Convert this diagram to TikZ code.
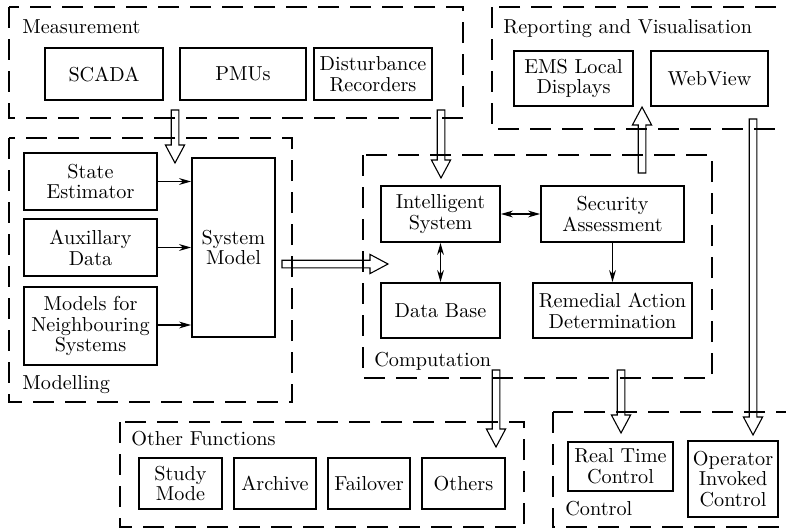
\documentclass[tikz,border=0pt]{standalone}
\usepackage{fontspec}
\usetikzlibrary{arrows.meta,calc}

% hollow block arrows (vertical and horizontal), tail at #1, tip at #2
\newcommand\fatvarrow[2]{%
  \draw[fatarrow] let \p1=(#1), \p2=(#2), \n1={sign(\y2-\y1)} in
    (\x1-1.9pt,\y1) -- (\x1-1.9pt,{\y2-\n1*9pt}) -- (\x1-4.8pt,{\y2-\n1*9pt}) -- (\x1,\y2)
    -- (\x1+4.8pt,{\y2-\n1*9pt}) -- (\x1+1.9pt,{\y2-\n1*9pt}) -- (\x1+1.9pt,\y1) -- cycle;}
\newcommand\fatharrow[2]{%
  \draw[fatarrow] let \p1=(#1), \p2=(#2), \n1={sign(\x2-\x1)} in
    (\x1,\y1-1.9pt) -- ({\x2-\n1*9pt},\y1-1.9pt) -- ({\x2-\n1*9pt},\y1-4.8pt) -- (\x2,\y1)
    -- ({\x2-\n1*9pt},\y1+4.8pt) -- ({\x2-\n1*9pt},\y1+1.9pt) -- (\x1,\y1+1.9pt) -- cycle;}

\begin{document}
\begin{tikzpicture}[x=0.5pt,y=-0.5pt,
  font=\fontsize{10.1}{10.4}\selectfont,
  box/.style={draw,line width=0.95pt,inner sep=0pt,align=center},
  sz/.style 2 args={minimum width=#1*0.5pt,minimum height=#2*0.5pt},
  group/.style={draw,line width=0.6pt,dash pattern=on 10.5pt off 5.5pt},
  lbl/.style={anchor=base west,inner sep=0pt},
  link/.style={line width=0.55pt,-{Stealth[length=6pt,width=3.4pt]}},
  dlink/.style={line width=0.55pt,{Stealth[length=6pt,width=3.4pt]}-{Stealth[length=6pt,width=3.4pt]}},
  fatarrow/.style={line width=0.55pt,line join=miter}]

\clip (0,0) rectangle (786,530);

% functional groups
\draw[group] (9,7) rectangle (463,118);
\draw[group] (492,7) rectangle (800,129);
\draw[group] (9,138) rectangle (292,402);
\draw[group] (363,155) rectangle (712,378);
\draw[group] (120,422) rectangle (524,527);
\draw[group] (553,412) rectangle (800,527);

\node[lbl] (lmeas) at (22,33) {Measurement};
\node[lbl] (lrep) at (503,33) {Reporting and Visualisation};
\node[lbl] (lmod) at (22,389) {Modelling};
\node[lbl] (lcomp) at (374,366) {Computation};
\node[lbl] (loth) at (131,445) {Other Functions};
\node[lbl] (lctl) at (565,515) {Control};

% measurement
\node[box,sz={118}{52}] (scada) at (104,74) {SCADA};
\node[box,sz={126}{52}] (pmu) at (243,74) {PMUs};
\node[box,sz={118}{52}] (dr) at (373,74) {Disturbance\\Recorders};

% reporting
\node[box,sz={119}{55}] (ems) at (573.5,78.5) {EMS Local\\Displays};
\node[box,sz={117}{55}] (web) at (709.5,78.5) {WebView};

% modelling
\node[box,sz={133}{57}] (se) at (90.5,181.5) {State\\Estimator};
\node[box,sz={133}{57}] (aux) at (90.5,247.5) {Auxillary\\Data};
\node[box,sz={133}{78}] (nb) at (90.5,326) {Models for\\Neighbouring\\Systems};
\node[box,sz={83}{179}] (sm) at (233.5,247.5) {System\\Model};

% computation
\node[box,sz={119}{56}] (is) at (440.5,214) {Intelligent\\System};
\node[box,sz={143}{56}] (sa) at (612.5,214) {Security\\Assessment};
\node[box,sz={119}{55}] (db) at (440.5,310.5) {Data Base};
\node[box,sz={159}{55}] (rad) at (612.5,310.5) {Remedial Action\\Determination};

% other functions
\node[box,sz={83}{51}] (study) at (180.5,483.5) {Study\\Mode};
\node[box,sz={82}{51}] (arch) at (275,483.5) {Archive};
\node[box,sz={82}{51}] (fail) at (369,483.5) {Failover};
\node[box,sz={83}{51}] (oth) at (463.5,483.5) {Others};

% control
\node[box,sz={105}{49}] (rtc) at (620.5,466.5) {Real Time\\Control};
\node[box,sz={90}{76}] (oic) at (733,479) {Operator\\Invoked\\Control};

% thin connectors
\draw[link] (se.east) -- (se.east -| sm.west);
\draw[link] (aux.east) -- (aux.east -| sm.west);
\draw[link] ([yshift=0.5pt]nb.east) -- ([yshift=0.5pt]nb.east -| sm.west);
\draw[dlink] (is.east) -- (sa.west);
\draw[dlink] (is.south) -- (db.north);
\draw[link] (sa.south) -- (rad.north);

% block arrow end points
\coordinate (m1) at (175,110);   \coordinate (m1e) at (175,163);
\coordinate (m2) at (441,110);   \coordinate (m2e) at (441,178);
\coordinate (smo) at (282,264);  \coordinate (cin) at (388,264);
\coordinate (up1) at (642,173);  \coordinate (up1e) at (642,107);
\coordinate (w1) at (753,119);   \coordinate (w1e) at (753,435);
\coordinate (o1) at (496,370);   \coordinate (o1e) at (496,447);
\coordinate (r1) at (621,370);   \coordinate (r1e) at (621,433);

\fatvarrow{m1}{m1e}
\fatvarrow{m2}{m2e}
\fatharrow{smo}{cin}
\fatvarrow{up1}{up1e}
\fatvarrow{w1}{w1e}
\fatvarrow{o1}{o1e}
\fatvarrow{r1}{r1e}
\end{tikzpicture}
\end{document}
